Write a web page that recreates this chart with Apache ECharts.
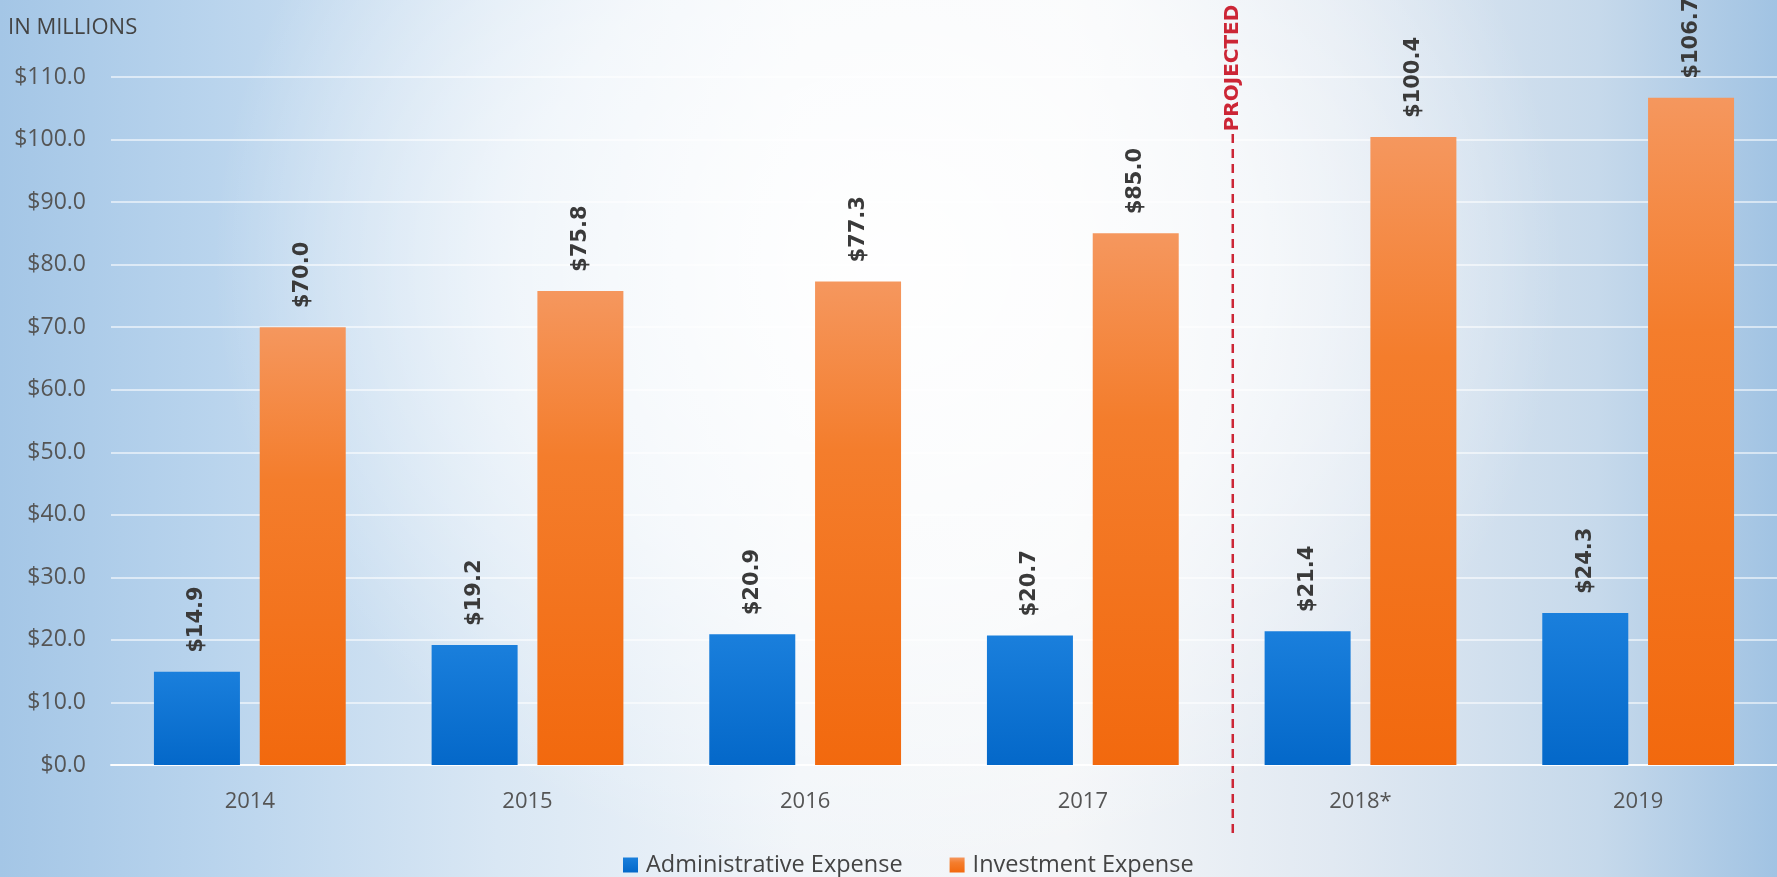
<!DOCTYPE html>
<html>
<head>
<meta charset="utf-8">
<script src="https://cdn.jsdelivr.net/npm/echarts@6/dist/echarts.min.js"></script>
<style>
html,body{margin:0;padding:0;}
body{width:1777px;height:877px;overflow:hidden;
background:
 radial-gradient(ellipse 38% 70% at 50% 30%, rgba(255,255,255,0.95) 0%, rgba(255,255,255,0.6) 55%, rgba(255,255,255,0) 100%),
 linear-gradient(to right, #a4c6e6 0%, #b9d4ed 12%, #d9e7f4 28%, #f1f5f9 45%, #f4f6f8 60%, #e1e9f2 75%, #c6d9eb 90%, #a1c3e3 100%);
}
#chart{width:1777px;height:877px;}
</style>
</head>
<body>
<div id="chart"></div>
<script>
// ---- data ----
const categories = ['2014', '2015', '2016', '2017', '2018*', '2019'];
const adminExpense = [14.9, 19.2, 20.9, 20.7, 21.4, 24.3];
const investmentExpense = [70.0, 75.8, 77.3, 85.0, 100.4, 106.7];
const seriesNames = ['Administrative Expense', 'Investment Expense'];
const yMin = 0, yMax = 110, yStep = 10;
const unitLabel = 'IN MILLIONS';
const projectedLabel = 'PROJECTED';
const projectedBoundary = 4.04; // position on category scale (0..6) where projection starts

const chart = echarts.init(document.getElementById('chart'), null, {renderer: 'canvas'});

const valueLabel = {
  show: true,
  position: 'top',
  rotate: 90,
  align: 'left',
  verticalAlign: 'middle',
  distance: 19,
  fontFamily: 'DejaVu Sans',
  fontWeight: 'bold',
  fontSize: 21,
  color: '#3a3a3a',
  formatter: p => '$' + p.value.toFixed(1)
};

chart.setOption({
  backgroundColor: 'transparent',
  animation: false,
  grid: {left: 111, top: 77, width: 1670, height: 688, containLabel: false},
  legend: {
    left: 618, top: 848,
    itemWidth: 15, itemHeight: 15, itemGap: 47,
    icon: 'rect',
    textStyle: {fontFamily: 'Open Sans', fontSize: 23.5, color: '#444', padding: [0,0,0,3]},
    data: seriesNames
  },
  xAxis: [{
    type: 'category',
    data: categories,
    axisLine: {show: true, lineStyle: {color: 'rgba(255,255,255,0.9)', width: 2}},
    axisTick: {show: false},
    axisLabel: {fontFamily: 'Open Sans', fontSize: 22, color: '#555', margin: 26}
  }, {
    type: 'value', min: 0, max: 6, show: false
  }],
  yAxis: {
    type: 'value', min: yMin, max: yMax, interval: yStep,
    axisLine: {show: false}, axisTick: {show: false},
    axisLabel: {fontFamily: 'Open Sans', fontSize: 23, color: '#555', margin: 25,
      formatter: v => '$' + v.toFixed(1)},
    splitLine: {lineStyle: {color: 'rgba(255,255,255,0.75)', width: 1.5}}
  },
  series: [{
    name: seriesNames[0], type: 'bar', data: adminExpense,
    barWidth: 86, barGap: '23%', color: '#0a74d6',
    itemStyle: {color: new echarts.graphic.LinearGradient(0,0,0,1,[
      {offset: 0, color: '#1a7fdc'}, {offset: 1, color: '#0468c9'}])},
    label: valueLabel
  }, {
    name: seriesNames[1], type: 'bar', data: investmentExpense,
    barWidth: 86, barGap: '23%', color: '#f47620',
    itemStyle: {color: new echarts.graphic.LinearGradient(0,0,0,1,[
      {offset: 0, color: '#f5975e'}, {offset: 0.35, color: '#f47d2c'}, {offset: 1, color: '#f2690e'}])},
    label: valueLabel
  }]
});

const px = chart.convertToPixel({xAxisIndex: 1}, projectedBoundary);
chart.setOption({
  graphic: [{
    type: 'line',
    shape: {x1: px, y1: 134, x2: px, y2: 838},
    style: {stroke: '#cc2636', lineWidth: 2.5, lineDash: [9, 6]},
    silent: true
  }, {
    type: 'text',
    x: px, y: 68,
    rotation: Math.PI / 2,
    style: {text: projectedLabel, fill: '#cc2636', font: 'bold 20px "DejaVu Sans"',
      align: 'center', verticalAlign: 'middle'},
    silent: true
  }, {
    type: 'text',
    left: 8, top: 17,
    style: {text: unitLabel, fill: '#444', font: '22px "Open Sans"'},
    silent: true
  }]
});
</script>
</body>
</html>
